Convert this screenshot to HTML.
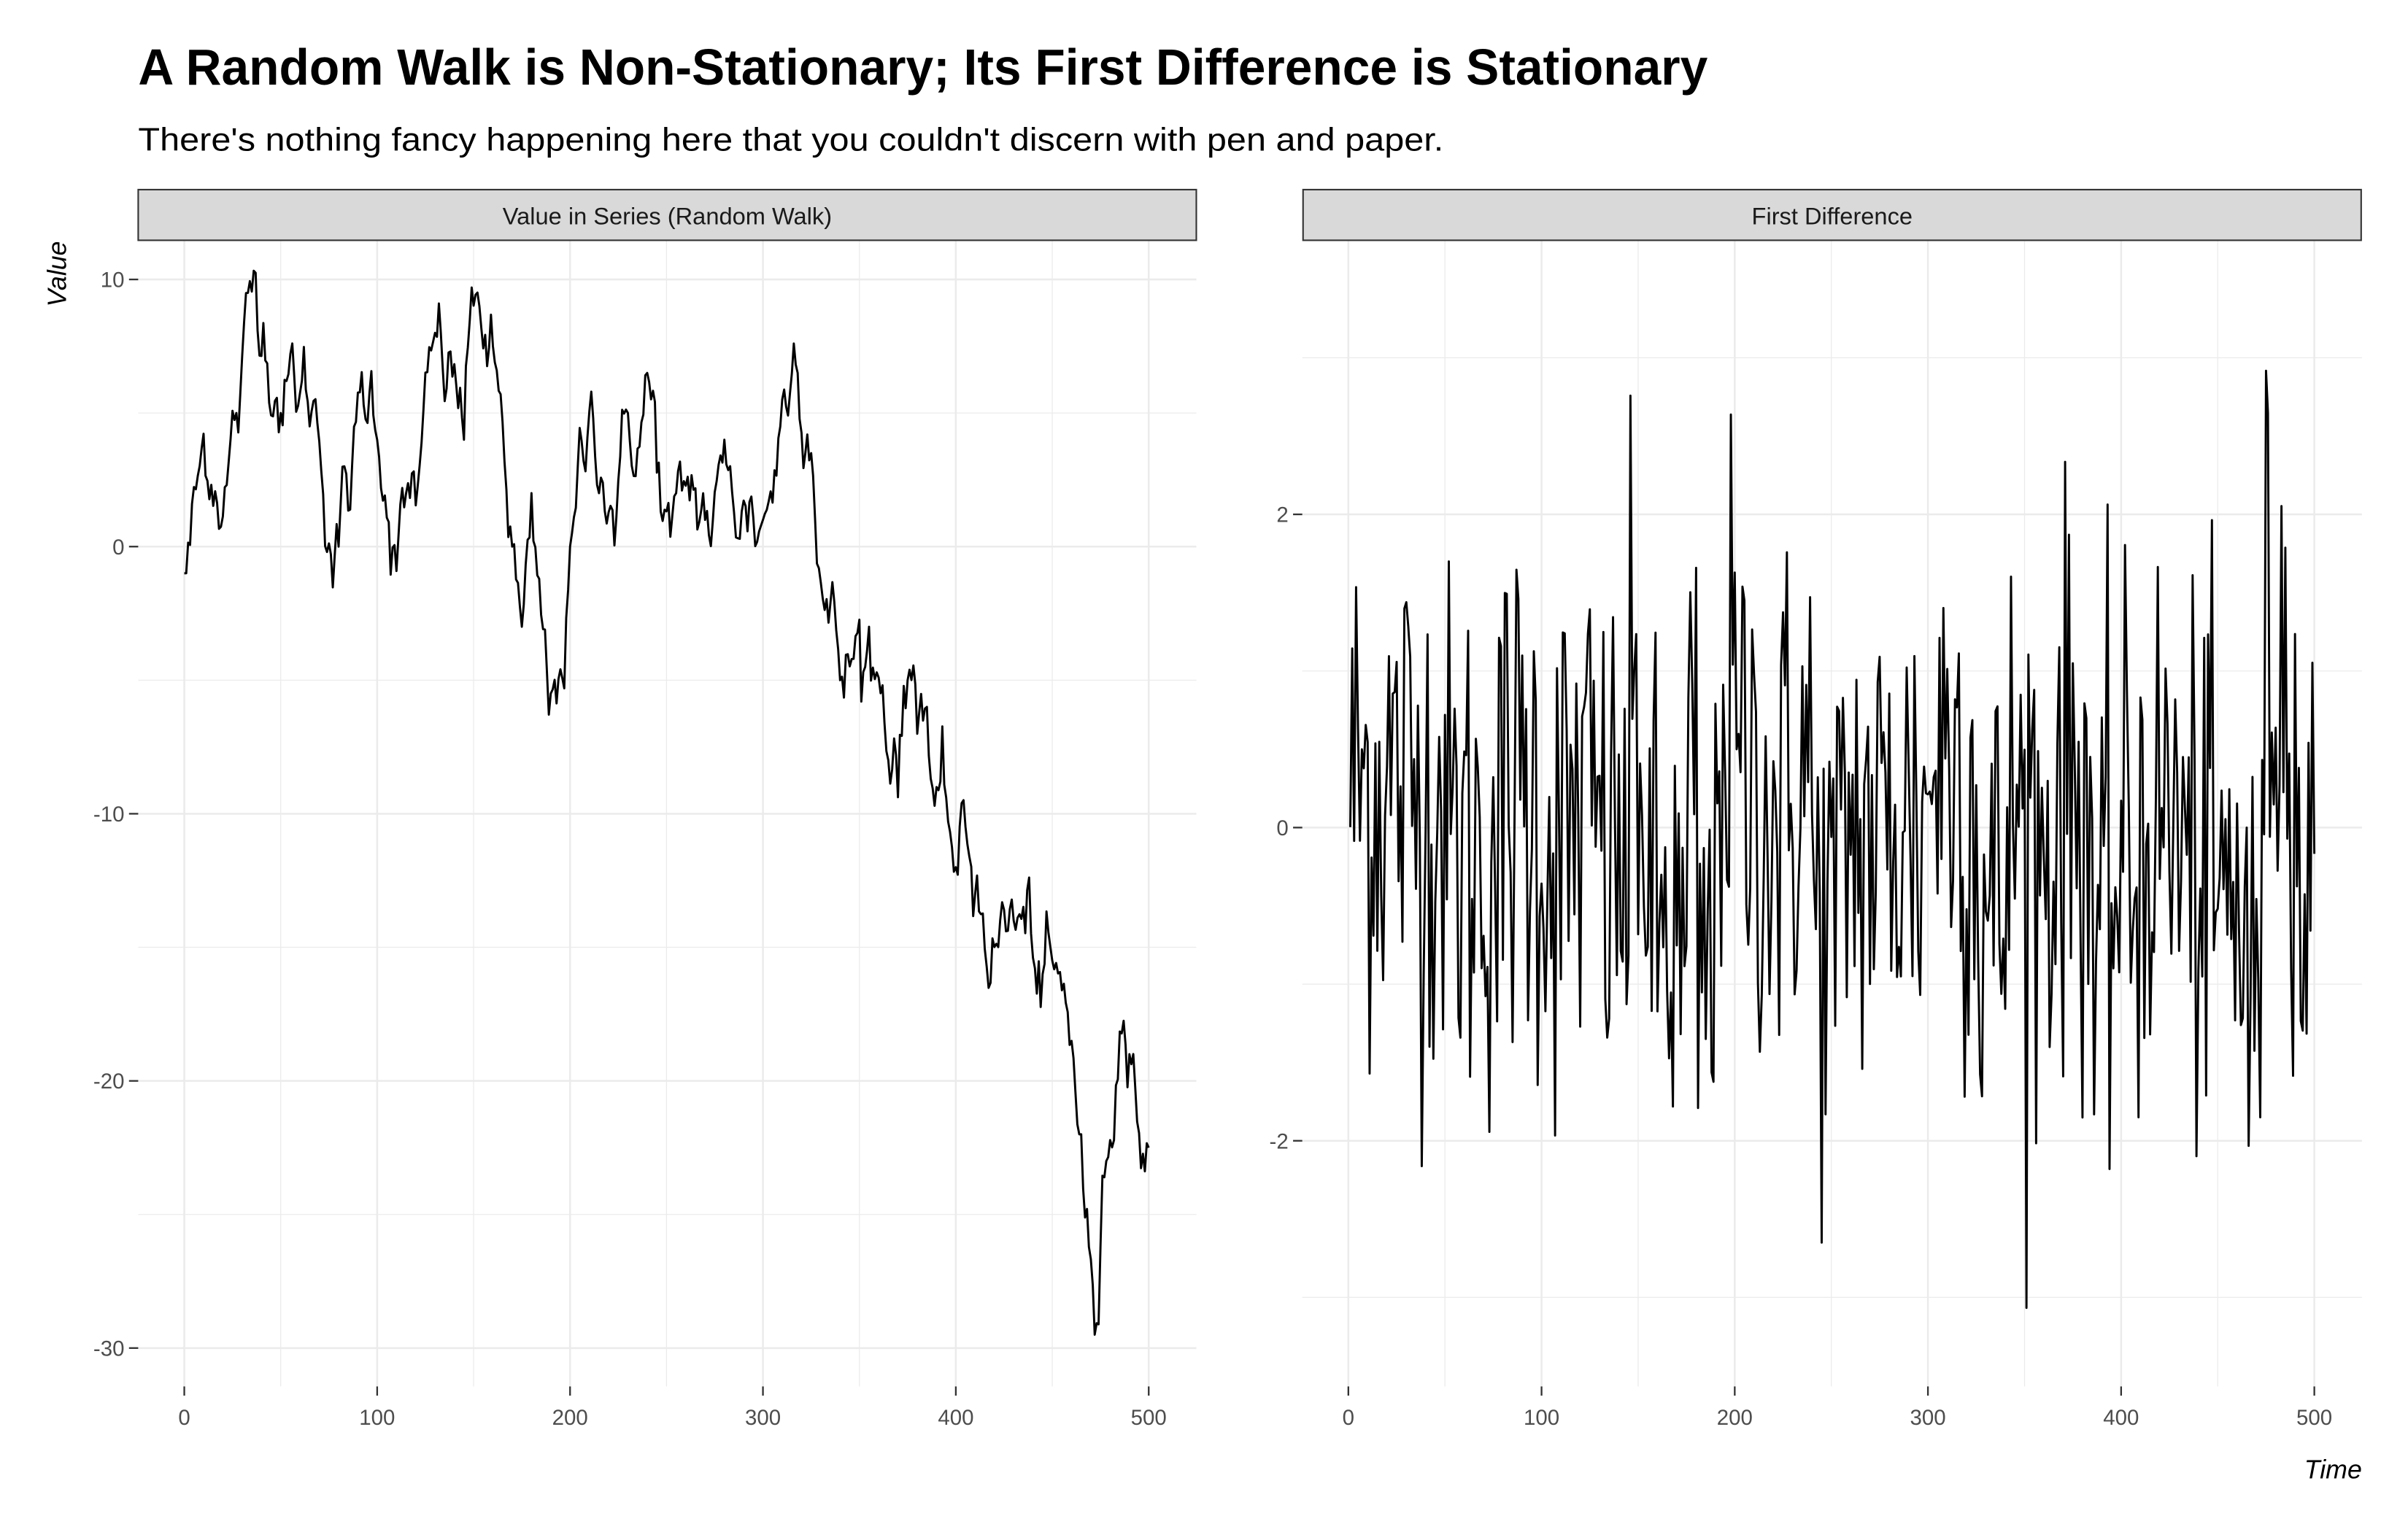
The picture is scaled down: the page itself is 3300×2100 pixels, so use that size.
<!DOCTYPE html>
<html><head><meta charset="utf-8">
<style>
html,body{margin:0;padding:0;background:#fff;}
svg{display:block;}
text{font-family:"Liberation Sans Narrow","Liberation Sans",sans-serif;}
</style></head>
<body>
<svg id="s" width="3300" height="2100" viewBox="0 0 1568 997.8" xmlns="http://www.w3.org/2000/svg">
<rect width="1568" height="998" fill="#fff"/>
<text x="90" y="55" font-size="33" font-weight="bold" fill="#000" textLength="1022" lengthAdjust="spacingAndGlyphs">A Random Walk is Non-Stationary; Its First Difference is Stationary</text>
<text x="90" y="98" font-size="21" fill="#000" style="font-family:'Liberation Sans',sans-serif" textLength="850" lengthAdjust="spacingAndGlyphs">There's nothing fancy happening here that you couldn't discern with pen and paper.</text>
<g id="grid"></g>
<rect x="90" y="123.5" width="689" height="33" fill="#d9d9d9" stroke="#333" stroke-width="1"/>
<rect x="848.5" y="123.5" width="689" height="33" fill="#d9d9d9" stroke="#333" stroke-width="1"/>
<text x="434.5" y="146" font-size="15.5" fill="#1a1a1a" text-anchor="middle" style="font-family:'Liberation Sans',sans-serif">Value in Series (Random Walk)</text>
<text x="1193" y="146" font-size="15.5" fill="#1a1a1a" text-anchor="middle" style="font-family:'Liberation Sans',sans-serif">First Difference</text>
<text transform="translate(43,157) rotate(-90)" font-size="17" font-style="italic" fill="#000" text-anchor="end" style="font-family:'Liberation Sans',sans-serif">Value</text>
<text x="1538" y="963" font-size="17" font-style="italic" fill="#000" text-anchor="end" style="font-family:'Liberation Sans',sans-serif">Time</text>
<g id="data"></g>
</svg>
<script>
(function(){
var NS="http://www.w3.org/2000/svg";
function el(p,n,a,t){var e=document.createElementNS(NS,n);for(var k in a)e.setAttribute(k,a[k]);if(t!==undefined)e.textContent=t;p.appendChild(e);return e;}
var grid=document.getElementById('grid'),data=document.getElementById('data');
var top=157,bot=903;
var L={x0:90,x1:779,tx:function(t){return 120+t*628/500;},ty:function(v){return 356-v*17.4;}};
var R={x0:848,x1:1538,tx:function(t){return 878+t*629/500;},ty:function(v){return 539-v*102;}};
function panel(P,majY,minY,labels){
  minY.forEach(function(v){el(grid,'line',{x1:P.x0,x2:P.x1,y1:P.ty(v),y2:P.ty(v),stroke:'#ebebeb','stroke-width':0.6});});
  [50,150,250,350,450].forEach(function(t){el(grid,'line',{x1:P.tx(t),x2:P.tx(t),y1:top,y2:bot,stroke:'#ebebeb','stroke-width':0.6});});
  majY.forEach(function(v){el(grid,'line',{x1:P.x0,x2:P.x1,y1:P.ty(v),y2:P.ty(v),stroke:'#ebebeb','stroke-width':1.2});});
  [0,100,200,300,400,500].forEach(function(t){var x=P.tx(t);el(grid,'line',{x1:x,x2:x,y1:top,y2:bot,stroke:'#ebebeb','stroke-width':1.2});
    el(grid,'line',{x1:x,x2:x,y1:bot,y2:bot+6,stroke:'#333','stroke-width':1.1});
    el(grid,'text',{x:x,y:bot+25,'font-size':14,fill:'#4d4d4d','text-anchor':'middle',style:"font-family:'Liberation Sans',sans-serif"},String(t));});
  majY.forEach(function(v,i){var y=P.ty(v);el(grid,'line',{x1:P.x0-6,x2:P.x0,y1:y,y2:y,stroke:'#333','stroke-width':1.1});
    el(grid,'text',{x:P.x0-9,y:y+5,'font-size':14,fill:'#4d4d4d','text-anchor':'end',style:"font-family:'Liberation Sans',sans-serif"},labels[i]);});
}
panel(L,[10,0,-10,-20,-30],[5,-5,-15,-25],['10','0','-10','-20','-30']);
panel(R,[2,0,-2],[3,1,-1,-3],['2','0','-2']);
var s=12345;function rnd(){s=(s*1103515245+12345)%2147483648;return s/2147483648;}
function gauss(){var u=rnd()||1e-9,v=rnd();return Math.sqrt(-2*Math.log(u))*Math.cos(2*Math.PI*v);}
var A=[[0,-1],[33,9.5],[50,5],[65,4.5],[80,0],[100,4],[115,2],[130,8],[145,4],[153,9],[170,0],[175,-3],[180,2],[190,-5.5],[200,0],[215,2],[230,5],[240,6.5],[255,2],[270,1],[280,4],[300,1],[318,6.5],[325,3.5],[340,-5],[355,-3],[365,-8],[375,-5],[385,-6],[390,-9],[400,-12],[410,-13],[430,-14],[445,-16],[460,-18.5],[465,-22],[472,-29.5],[478,-23],[490,-19],[500,-22.5]];
var w=[];w[0]=A[0][1];
for(var k=0;k<A.length-1;k++){var a=A[k],b=A[k+1],n=b[0]-a[0],c=[0],i;
  for(i=1;i<=n;i++)c[i]=c[i-1]+0.9*gauss();
  for(i=1;i<=n;i++)w[a[0]+i]=a[1]+c[i]-c[n]*i/n+(b[1]-a[1])*i/n;}
var d1='',d2='';
for(var t=0;t<=500;t++){d1+=(t?'L':'M')+L.tx(t).toFixed(2)+','+L.ty(w[t]).toFixed(2);
  if(t>0){var dv=w[t]-w[t-1];d2+=(t>1?'L':'M')+R.tx(t).toFixed(2)+','+R.ty(dv).toFixed(2);}}
el(data,'path',{d:d1,fill:'none',stroke:'#000','stroke-width':1.4,'stroke-linejoin':'round'});
el(data,'path',{d:d2,fill:'none',stroke:'#000','stroke-width':1.4,'stroke-linejoin':'round'});
})();
</script>
</body></html>
